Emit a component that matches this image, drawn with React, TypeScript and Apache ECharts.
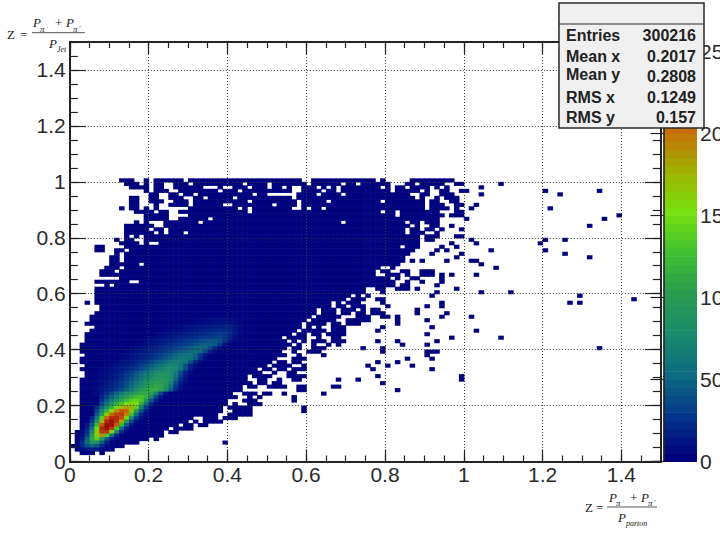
import React, { useEffect, useRef } from "react";
import * as echarts from "echarts";

const BIN = 0.0125;
const AXIS_MAX = 1.5;
const Z_MAX = 2555;
const BASE_COUNT = 15;

// occupied bins: [row, [[firstCol,lastCol],...]]
const occupiedRows: [number, number[][]][] = [
  [80, [[10,12],[15,15],[17,22],[24,46],[49,61],[63,63],[69,77]]],
  [79, [[11,13],[15,15],[17,18],[21,23],[25,34],[36,39],[41,47],[49,54],[56,57],[59,64],[68,69],[71,75],[78,79],[87,87]]],
  [78, [[12,15],[17,18],[21,26],[30,30],[33,35],[37,39],[41,42],[44,44],[47,49],[51,51],[53,53],[55,62],[64,64],[66,67],[69,72],[74,74],[76,76],[83,83]]],
  [77, [[15,15],[17,19],[22,29],[31,33],[35,44],[47,50],[52,53],[55,64],[66,70],[72,72],[75,76],[79,80],[96,96],[107,107]]],
  [76, [[16,17],[20,21],[23,24],[26,36],[38,39],[46,49],[51,54],[56,68],[71,72],[75,77],[83,83],[99,99]]],
  [75, [[12,13],[16,17],[20,22],[25,26],[28,32],[34,44],[46,69],[71,71],[74,74],[76,78]]],
  [74, [[12,13],[16,18],[21,23],[25,35],[37,45],[47,51],[53,62],[64,71],[73,74],[77,78]]],
  [73, [[12,13],[17,17],[20,23],[25,30],[33,40],[42,45],[47,71],[73,75],[78,79],[82,82]]],
  [72, [[10,10],[12,13],[15,15],[17,17],[24,33],[35,35],[37,44],[47,47],[49,50],[52,71],[73,76],[78,78],[81,81],[97,97]]],
  [71, [[13,16],[18,19],[22,35],[37,62],[64,65],[67,74],[78,79]]],
  [70, [[15,19],[24,65],[67,75],[77,79],[111,111]]],
  [69, [[15,19],[22,27],[29,74],[80,80],[108,108]]],
  [68, [[13,13],[15,15],[19,25],[27,54],[56,67],[69,70],[72,74]]],
  [67, [[11,16],[19,68],[70,70],[73,74],[77,77],[105,105]]],
  [66, [[11,15],[17,18],[20,67],[69,70],[72,73],[75,75],[79,79]]],
  [65, [[11,16],[18,18],[20,22],[24,67],[69,71],[74,74]]],
  [64, [[11,11],[13,13],[15,70],[72,74],[78,79]]],
  [63, [[9,9],[11,12],[15,70],[72,73],[81,81],[96,96],[100,100]]],
  [62, [[10,13],[15,15],[18,70],[77,77],[82,82],[95,95]]],
  [61, [[5,6],[11,66],[68,70],[75,75],[78,78]]],
  [60, [[5,6],[9,10],[12,69],[74,74],[76,76],[85,85],[96,96]]],
  [59, [[9,9],[11,68],[73,73],[79,79],[100,100]]],
  [58, [[8,9],[11,67],[78,78],[105,105]]],
  [57, [[8,9],[11,67],[69,69],[71,71],[76,76],[81,82]]],
  [56, [[8,13],[15,66],[83,83]]],
  [55, [[7,9],[11,62],[65,65],[86,86]]],
  [54, [[6,8],[10,61],[63,64],[67,68],[71,73]]],
  [53, [[6,61],[64,66],[68,68],[71,73],[75,75],[77,77],[82,82]]],
  [52, [[10,64],[66,66],[69,70],[75,75]]],
  [51, [[5,11],[14,65],[68,68],[71,71],[75,75]]],
  [50, [[7,7],[9,65],[67,68],[74,74]]],
  [49, [[5,59],[62,63],[66,68],[70,70],[78,78]]],
  [48, [[5,59],[63,63],[74,74],[83,83],[89,89]]],
  [47, [[5,56],[58,58],[60,60],[73,73],[103,103]]],
  [46, [[5,55],[57,59],[62,63],[114,114]]],
  [45, [[3,3],[5,52],[54,54],[56,58],[63,63],[75,75],[101,101],[103,103]]],
  [44, [[6,52],[54,55],[57,59],[64,64],[72,72],[75,75]]],
  [43, [[6,49],[51,53],[55,57],[59,59],[61,62],[70,70]]],
  [42, [[5,49],[51,53],[55,56],[58,59],[61,63],[70,70],[76,76]]],
  [41, [[4,48],[50,54],[58,60],[63,64],[66,66],[75,75],[81,81]]],
  [40, [[4,47],[49,53],[56,60],[66,66],[72,72]]],
  [39, [[3,46],[48,51],[53,54],[56,58],[66,66]]],
  [38, [[5,46],[48,48],[50,50],[53,55],[63,63],[73,73]]],
  [37, [[4,45],[47,51],[53,55],[62,62],[82,82]]],
  [36, [[3,44],[46,47],[49,50],[52,55],[72,72]]],
  [35, [[3,42],[44,47],[50,50],[53,54],[77,77],[87,87]]],
  [34, [[3,43],[45,45],[47,47],[49,51],[53,55],[62,62],[66,66],[74,74]]],
  [33, [[2,44],[46,46],[49,49],[52,52],[54,54],[67,67],[72,72]]],
  [32, [[2,43],[45,46],[49,51],[59,59],[63,63],[107,107]]],
  [31, [[2,42],[45,45],[48,50],[63,63],[72,74]]],
  [30, [[3,43],[46,46],[51,51],[72,72]]],
  [29, [[2,41],[45,47],[68,68],[73,73]]],
  [28, [[2,40],[42,43],[45,46],[62,62],[66,66]]],
  [27, [[3,39],[41,44],[47,47],[60,60],[64,64],[69,69]]],
  [26, [[2,37],[39,40],[42,43],[45,47],[61,61],[73,73]]],
  [25, [[3,38],[41,41],[44,45]]],
  [24, [[3,35],[37,40],[44,47],[62,62],[79,79]]],
  [23, [[2,35],[38,39],[42,42],[45,46],[54,54],[58,58],[79,79]]],
  [22, [[2,36],[38,39],[41,42],[63,63]]],
  [21, [[2,34],[36,37],[40,43],[46,47],[53,54]]],
  [20, [[2,34],[46,47],[66,66]]],
  [19, [[2,32],[35,37],[39,40],[43,43],[51,51]]],
  [18, [[2,33],[36,36],[38,38],[45,45]]],
  [17, [[2,31],[35,37],[45,45]]],
  [16, [[2,31],[33,33],[36,38]]],
  [15, [[2,30],[32,36],[47,47]]],
  [14, [[2,30],[33,36],[47,47]]],
  [13, [[2,29],[32,36]]],
  [12, [[2,24],[27,29],[31,33]]],
  [11, [[2,23],[25,25],[27,30]]],
  [10, [[2,21],[23,24],[26,27]]],
  [9, [[2,19],[21,24]]],
  [8, [[1,18],[20,21]]],
  [7, [[1,18]]],
  [6, [[1,15],[17,17]]],
  [5, [[1,13],[31,31]]],
  [4, [[0,10]]],
  [3, [[1,8]]],
  [2, [[2,4],[6,6]]],
];

// counts in the populated core: [row, firstCol, counts]
const coreRows: [number, number, number[]][] = [
  [3, 1, [20,60,120,150,120,60,20]],
  [4, 1, [60,180,350,500,400,200,60,20]],
  [5, 1, [40,200,500,850,800,450,150,40]],
  [6, 2, [120,450,1050,1350,950,450,130,30]],
  [7, 2, [70,300,950,1600,1850,1300,550,150,40]],
  [8, 2, [50,220,750,1650,2250,2300,1550,700,200,50]],
  [9, 3, [140,550,1450,2350,2550,2250,1300,500,130,30]],
  [10, 3, [100,400,1150,2100,2500,2550,2100,1150,420,100,25]],
  [11, 4, [280,850,1750,2350,2500,2300,1800,900,350,90,20]],
  [12, 4, [200,600,1350,2050,2350,2350,2150,1550,750,280,70,20]],
  [13, 5, [420,1000,1600,2050,2200,2250,1900,1250,550,180,50]],
  [14, 5, [300,700,1150,1550,1900,2100,2050,1650,950,400,120,30]],
  [15, 5, [200,480,800,1150,1450,1700,1800,1750,1350,700,260,70]],
  [16, 6, [340,580,850,1100,1300,1500,1600,1500,1100,550,180,50]],
  [17, 6, [240,420,620,850,1050,1200,1350,1400,1300,900,420,130,30]],
  [18, 6, [170,300,450,620,800,950,1100,1200,1250,1150,750,330,100]],
  [19, 5, [60,120,210,330,470,620,760,880,1000,1080,1100,1000,700,300,80]],
  [20, 4, [30,60,90,130,180,250,340,460,600,750,900,1020,1100,1100,1020,780,420,170,50]],
  [21, 4, [25,50,75,110,150,210,290,390,510,650,790,920,1020,1060,1040,880,560,250,80,25]],
  [22, 5, [40,65,95,135,190,260,350,450,570,700,830,930,980,990,900,680,350,130,40]],
  [23, 5, [35,55,80,115,160,220,300,390,490,600,720,830,910,940,910,760,480,210,70]],
  [24, 6, [45,70,100,135,190,260,340,430,530,630,730,820,870,870,780,560,280,100,30]],
  [25, 6, [40,60,85,115,165,225,295,375,465,560,650,740,810,830,780,620,360,150,50]],
  [26, 6, [30,45,70,100,130,165,205,255,325,410,495,580,665,740,770,730,600,340,130,40]],
  [27, 7, [30,50,75,100,130,170,220,285,355,435,515,590,660,700,690,590,380,170,60]],
  [28, 9, [40,70,95,125,160,205,255,315,385,455,525,590,640,640,570,390,180,60]],
  [29, 10, [40,60,90,120,150,190,235,285,340,400,465,525,575,600,570,420,210,70]],
  [30, 10, [40,60,85,110,140,170,205,245,295,350,410,465,515,555,560,470,260,100,30]],
  [31, 11, [35,55,80,105,130,160,190,225,265,310,360,410,455,495,520,490,330,150,50]],
  [32, 12, [35,55,75,100,125,150,180,215,255,295,340,385,425,465,490,470,340,170,60]],
  [33, 13, [30,50,70,90,115,140,165,195,225,260,295,335,375,415,440,445,400,250,90,30]],
  [34, 14, [30,45,65,85,105,125,150,175,200,230,260,295,330,365,395,410,370,230,90,30]],
  [35, 15, [30,40,55,75,95,115,135,155,175,195,215,240,265,290,310,310,260,150,60,25]],
  [36, 17, [35,50,65,80,95,110,125,145,165,185,205,225,245,255,240,190,110,50]],
  [37, 19, [35,45,55,70,85,100,115,130,150,170,185,200,195,160,100,50]],
  [38, 21, [35,45,55,65,80,95,105,120,135,145,150,130,90,45]],
  [39, 23, [30,40,50,60,70,80,95,105,105,90,60,30]],
  [40, 25, [25,35,45,55,60,70,70,55,35]],
  [41, 27, [25,30,35,40,40,35,25]],
];

const paletteColors = ["#00007c","#05358a","#0d6a80","#198a6c","#2a9c50","#40c030","#78e010","#a0b000","#c86c08","#bc3a08","#981008"];
const paletteMax = 2500;
const zBarLevels = [0,50,100,150,200,250,300,350,400,450,500,550,600,650,700,750,800,850,900,950,1000,1050,1100,1150,1200,1250,1300,1350,1400,1450,1500,1550,1600,1650,1700,1750,1800,1850,1900,1950,2000,2050,2100,2150,2200,2250,2300,2350,2400,2450,2500,2550];
const zBarStep = 50;

const statsLabels = ["Entries", "Mean x", "Mean y", "RMS x", "RMS y"];
const statsValues = ["300216", "0.2017", "0.2808", "0.1249", "0.157"];
const statsLabelY = [35, 56, 74, 97, 117];
const statsValueY = [35, 56, 76, 97, 117];

// [text, x, y, size, italic]
const formulaParts: [string, number, number, number, boolean][] = [
  ["Z", 7, 34, 13, false], ["=", 20, 34, 13, false],
  ["P", 33, 22, 13, true], ["π", 40, 29, 9, true], ["+", 46, 27, 5, false],
  ["+", 55, 22, 13, false],
  ["P", 66, 22, 13, true], ["π", 73, 29, 9, true], ["-", 79, 26, 6, false],
  ["P", 49, 43, 13, true], ["Jet", 57, 49, 8, true],
  ["Z", 585, 507, 13, false], ["=", 596, 507, 13, false],
  ["P", 609, 497, 13, true], ["π", 616, 503, 9, true], ["+", 622, 501, 5, false],
  ["+", 630, 497, 13, false],
  ["P", 641, 497, 13, true], ["π", 648, 503, 9, true], ["-", 654, 500, 6, false],
  ["P", 618, 517, 13, true], ["parton", 626, 523, 8, true],
];

function buildCells(): number[][] {
  const counts = new Map<string, number>();
  for (const [row, spans] of occupiedRows) {
    for (const [a, b] of spans) {
      for (let c = a; c <= b; c++) counts.set(c + ":" + row, BASE_COUNT);
    }
  }
  for (const [row, first, vals] of coreRows) {
    vals.forEach((v, i) => {
      const key = first + i + ":" + row;
      if (counts.has(key)) counts.set(key, v);
    });
  }
  const out: number[][] = [];
  counts.forEach((v, key) => {
    const [c, r] = key.split(":").map(Number);
    out.push([c * BIN, r * BIN, v]);
  });
  return out;
}

const FONT = "'Liberation Sans', Arial, sans-serif";
const INK = "#222";
const GRID = { left: 69.8, top: 42, width: 591, height: 419.5, outerBoundsMode: "none" };

function valueFmt(v: number) {
  return String(Math.round(v * 10) / 10);
}

function frameAxis(position: string, major: boolean, labelled: boolean, isY: boolean) {
  const majorLen = isY ? 16 : 12;
  const minorLen = isY ? 8 : 6;
  return {
    type: "value",
    position,
    min: 0,
    max: AXIS_MAX,
    interval: major ? 0.2 : 0.05,
    z: 5,
    axisLine: { show: major, onZero: false, lineStyle: { color: INK, width: 2 } },
    axisTick: { show: true, inside: true, length: major ? majorLen : minorLen, lineStyle: { color: INK, width: 1.2 } },
    splitLine: labelled ? { show: true, lineStyle: { color: "#3a3a3a", type: [1, 2], width: 1 } } : { show: false },
    axisLabel: labelled
      ? { show: true, showMaxLabel: false, margin: isY ? 4 : 2, color: "#2a2a2a", fontFamily: FONT, fontSize: 21, formatter: valueFmt }
      : { show: false },
  };
}

function cellRender(_p: any, api: any) {
  const x = api.value(0);
  const y = api.value(1);
  const a = api.coord([x, y]);
  const b = api.coord([x + BIN, y + BIN]);
  return {
    type: "rect",
    shape: { x: a[0], y: b[1], width: b[0] - a[0] + 0.6, height: a[1] - b[1] + 0.6 },
    style: { fill: api.visual("color") },
  };
}

function barRender(_p: any, api: any) {
  const v = api.value(1);
  const a = api.coord([0, v]);
  const b = api.coord([1, v + zBarStep]);
  return {
    type: "rect",
    shape: { x: a[0], y: b[1], width: b[0] - a[0], height: a[1] - b[1] + 0.6 },
    style: { fill: api.visual("color") },
  };
}

export default function App() {
  const ref = useRef<HTMLDivElement>(null);
  useEffect(() => {
    document.body.style.margin = "0";
    const chart = echarts.init(ref.current!, undefined, { renderer: "svg" });
    const graphics: any[] = [];
    formulaParts.forEach(([text, x, y, size, italic]) => {
      graphics.push({
        type: "text", x, y, z: 20,
        style: { text, fill: "#222", font: `${italic ? "italic " : ""}${size}px 'Liberation Serif', serif`, textVerticalAlign: "middle" },
      });
    });
    graphics.push({ type: "line", z: 20, shape: { x1: 32, y1: 32.7, x2: 85, y2: 32.7 }, style: { stroke: "#555", lineWidth: 1 } });
    graphics.push({ type: "line", z: 20, shape: { x1: 607, y1: 507, x2: 657, y2: 507 }, style: { stroke: "#555", lineWidth: 1 } });
    graphics.push({ type: "rect", z: 30, shape: { x: 559, y: 3, width: 145, height: 125 }, style: { fill: "#f0f0f0", stroke: "#2a2a2a", lineWidth: 1.5 } });
    graphics.push({ type: "line", z: 31, shape: { x1: 559, y1: 24, x2: 704, y2: 24 }, style: { stroke: "#2a2a2a", lineWidth: 1.2 } });
    statsLabels.forEach((t, i) => {
      graphics.push({ type: "text", z: 32, x: 566, y: statsLabelY[i], style: { text: t, fill: "#222", font: `bold 16px ${FONT}`, textVerticalAlign: "middle" } });
      graphics.push({ type: "text", z: 32, x: 696, y: statsValueY[i], style: { text: statsValues[i], fill: "#222", font: `bold 16px ${FONT}`, textAlign: "right", textVerticalAlign: "middle" } });
    });

    chart.setOption({
      animation: false,
      backgroundColor: "#fff",
      grid: [
        { ...GRID, containLabel: false },
        { left: 663.5, top: 42, width: 33.5, height: 419.5, containLabel: false, outerBoundsMode: "none" },
      ],
      xAxis: [
        { ...frameAxis("bottom", true, true, false), gridIndex: 0 },
        { ...frameAxis("bottom", false, false, false), gridIndex: 0 },
        { ...frameAxis("top", true, false, false), gridIndex: 0 },
        { ...frameAxis("top", false, false, false), gridIndex: 0 },
        { type: "value", gridIndex: 1, min: 0, max: 1, show: false },
      ],
      yAxis: [
        { ...frameAxis("left", true, true, true), gridIndex: 0 },
        { ...frameAxis("left", false, false, true), gridIndex: 0 },
        { ...frameAxis("right", true, false, true), gridIndex: 0 },
        { ...frameAxis("right", false, false, true), gridIndex: 0 },
        {
          type: "value", gridIndex: 1, position: "right", min: 0, max: Z_MAX, interval: 500, z: 5,
          axisLine: { show: true, lineStyle: { color: INK, width: 1.5 } },
          axisTick: { show: true, inside: true, length: 13, lineStyle: { color: INK, width: 1.2 } },
          splitLine: { show: false },
          axisLabel: { show: true, showMaxLabel: false, margin: 3, color: "#2a2a2a", fontFamily: FONT, fontSize: 21, formatter: (v: number) => String(v) },
        },
      ],
      visualMap: {
        show: false, seriesIndex: [0, 1], dimension: 2, min: 0, max: paletteMax,
        inRange: { color: paletteColors },
      },
      series: [
        {
          type: "custom", xAxisIndex: 0, yAxisIndex: 0, z: 2, silent: true, renderItem: cellRender,
          encode: { x: 0, y: 1 }, data: buildCells(), clip: false,
        },
        {
          type: "custom", xAxisIndex: 4, yAxisIndex: 4, z: 2, silent: true, renderItem: barRender,
          encode: { x: 0, y: 1 }, data: zBarLevels.map((z) => [0, z, z]),
        },
      ],
      graphic: { elements: graphics },
    });
    return () => chart.dispose();
  }, []);
  return <div ref={ref} style={{ position: "absolute", left: 0, top: 0, width: 720, height: 540, overflow: "hidden" }} />;
}
